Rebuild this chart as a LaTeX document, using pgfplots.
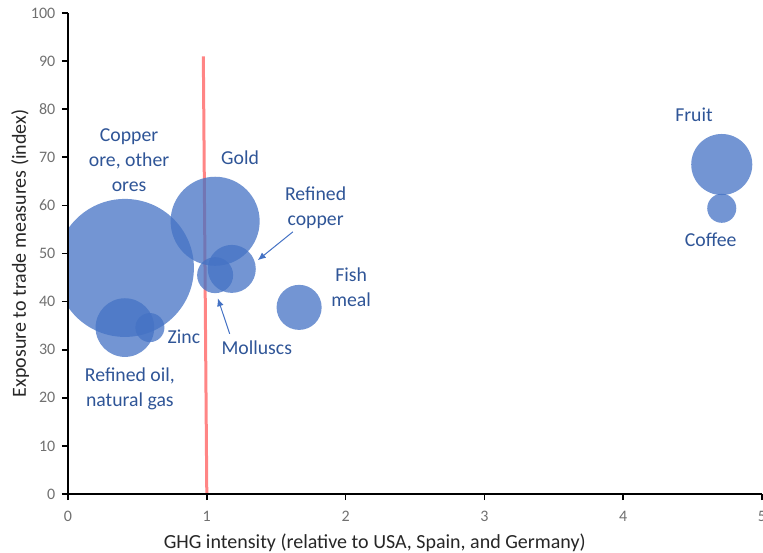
\documentclass[border=0pt]{standalone}
\usepackage{fontspec}
\setmainfont{Carlito}
\usepackage{pgfplots}
\pgfplotsset{compat=1.18}
\usepackage{pgfplotstable}
\usetikzlibrary{arrows.meta}
\definecolor{bub}{HTML}{4472C4}
\definecolor{lab}{HTML}{2F5597}
\definecolor{tickc}{HTML}{707070}
\definecolor{redl}{HTML}{FF8585}

% x, y, bubble radius (pt)
\pgfplotstableread{
x y r
0.41 47.0 51.75
1.06 56.7 33.4
1.18 46.8 18.0
1.06 45.5 13.5
0.41 34.6 22.0
0.59 34.6 10.9
1.665 38.8 16.9
4.71 68.5 22.9
4.71 59.4 10.9
}\bubbles

\pgfplotstableread{
x y
0.975 91
1.0 0
}\refline

\pgfplotsset{base/.style={
  scale only axis, width=520.5pt, height=360.75pt,
  xmin=0, xmax=5, ymin=0, ymax=100,
  at={(0,0)}, anchor=south west}}

\begin{document}
\begin{tikzpicture}
\begin{axis}[base, hide axis]
\addplot[redl, line width=2.25pt, no marks] table[x=x, y=y] {\refline};
\addplot[scatter, only marks, mark=*,
  mark options={draw opacity=0, fill=bub, fill opacity=0.75},
  scatter/use mapped color={draw opacity=0, fill=bub, fill opacity=0.75},
  visualization depends on={\thisrow{r} \as \rr},
  scatter/@pre marker code/.append style={/tikz/mark size=\rr pt}]
  table[x=x, y=y] {\bubbles};
\end{axis}
\begin{axis}[
  base, clip=false, axis on top,
  xtick={0,1,2,3,4,5}, ytick={0,10,...,100},
  axis x line*=bottom, axis y line*=left,
  axis line style={line width=1.5pt, black},
  tick style={line width=1.2pt, black},
  tick align=outside, major tick length=4.5pt,
  ticklabel style={font=\fontsize{12}{14}\selectfont, text=tickc},
  xticklabel shift=5pt, yticklabel shift=1.5pt,
  /pgf/number format/assume math mode=true,
  xlabel={GHG intensity (relative to USA, Spain, and Germany)},
  ylabel={Exposure to trade measures (index)},
  label style={font=\fontsize{15}{18}\selectfont, text=black!85},
  xlabel style={at={(axis description cs:0.442,-0.102)}, anchor=center},
  ylabel style={at={(axis description cs:-0.069,0.5)}, anchor=center},
]
% the bubbles are cut at the y axis
\fill[white] ([xshift=-10.5pt]axis cs:0,28) rectangle (axis cs:0,66);
\coordinate (O) at (rel axis cs:0,0);
\coordinate (T) at (rel axis cs:1,1);

\tikzset{bl/.style={font=\fontsize{14.8}{18.75}\selectfont, text=lab, align=center}}
\node[bl] at (axis cs:0.44,69.4) {Copper\\ore, other\\ores};
\node[bl] at (axis cs:1.24,69.9) {Gold};
\node[bl] at (axis cs:1.784,59.5) {Refined\\copper};
\node[bl] at (axis cs:2.04,42.9) {Fish\\meal};
\node[bl] at (axis cs:0.835,32.6) {Zinc};
\node[bl] at (axis cs:1.36,30.4) {Molluscs};
\node[bl] at (axis cs:0.446,21.8) {Refined oil,\\natural gas};
\node[bl] at (axis cs:4.51,78.8) {Fruit};
\node[bl] at (axis cs:4.63,52.8) {Coffee};
\draw[bub, line width=0.75pt, -{Latex[length=6pt,width=5pt]}] (axis cs:1.62,54.5) -- (axis cs:1.367,48.6);
\draw[bub, line width=0.75pt, -{Latex[length=6pt,width=5pt]}] (axis cs:1.165,33.3) -- (axis cs:1.079,40.7);
\end{axis}
\pgfresetboundingbox
\path ([shift={(-51pt,-43.5pt)}]O) rectangle ([shift={(0.75pt,9.75pt)}]T);
\end{tikzpicture}
\end{document}
